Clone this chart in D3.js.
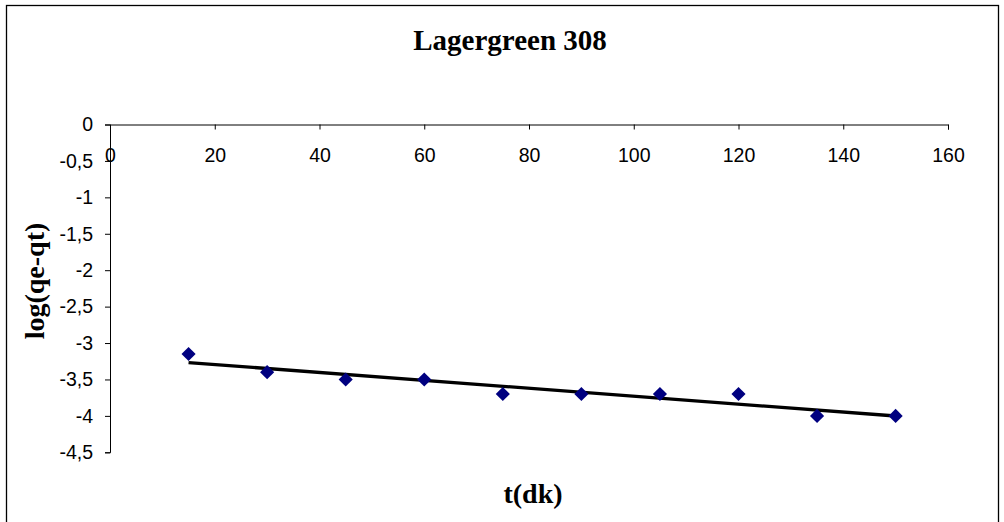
<!DOCTYPE html>
<html>
<head>
<meta charset="utf-8">
<script src="https://cdn.jsdelivr.net/npm/d3@7"></script>
<style>
html,body{margin:0;padding:0;background:#fff;}
svg{display:block;}
</style>
</head>
<body>
<svg id="chart" width="1004" height="522"></svg>
<script>
const tValues = [15, 30, 45, 60, 75, 90, 105, 120, 135, 150];
const logValues = [-3.15, -3.4, -3.5, -3.5, -3.7, -3.7, -3.7, -3.7, -4.0, -4.0];
const xTicks = [0, 20, 40, 60, 80, 100, 120, 140, 160];
const yTicks = [0, -0.5, -1, -1.5, -2, -2.5, -3, -3.5, -4, -4.5];
const titleText = "Lagergreen 308";
const xLabel = "t(dk)";
const yLabel = "log(qe-qt)";

const svg = d3.select("#chart");
const W = 1004, H = 522;

svg.append("rect").attr("x", 0).attr("y", 0).attr("width", W).attr("height", H).attr("fill", "#fff");
svg.append("rect").attr("x", 6.5).attr("y", 5.5).attr("width", 992).attr("height", 540)
  .attr("fill", "none").attr("stroke", "#000").attr("stroke-width", 1.3);

const x = d3.scaleLinear().domain([0, 160]).range([110, 948]);
const y = d3.scaleLinear().domain([-4.5, 0]).range([452.3, 124.5]);

const loc = d3.formatLocale({decimal: ",", thousands: ".", grouping: [3], currency: ["", ""], minus: "-"});
const fmt = loc.format("~g");

// x axis at y=0 (top)
const gx = svg.append("g").attr("transform", `translate(0,${y(0)})`)
  .call(d3.axisBottom(x).tickValues(xTicks).tickSize(5).tickPadding(19).tickFormat(d3.format("d")));
gx.select(".domain").attr("stroke", "#000").attr("stroke-width", 1);
gx.selectAll(".tick line").attr("stroke", "#000");
gx.selectAll("text").attr("font-family", "Liberation Sans, Arial, sans-serif").attr("font-size", 19.5).attr("fill", "#000");

const gy = svg.append("g").attr("transform", `translate(${x(0)},0)`)
  .call(d3.axisLeft(y).tickValues(yTicks).tickSize(5).tickPadding(12).tickFormat(fmt));
gy.select(".domain").attr("stroke", "#000").attr("stroke-width", 1);
gy.selectAll(".tick line").attr("stroke", "#000");
gy.selectAll("text").attr("font-family", "Liberation Sans, Arial, sans-serif").attr("font-size", 19.5).attr("fill", "#000");

// trendline (least squares)
const n = tValues.length;
const mx = d3.mean(tValues), my = d3.mean(logValues);
let sxy = 0, sxx = 0;
for (let i = 0; i < n; i++) { sxy += (tValues[i]-mx)*(logValues[i]-my); sxx += (tValues[i]-mx)**2; }
const slope = sxy / sxx, icpt = my - slope*mx;
const x0 = d3.min(tValues), x1 = d3.max(tValues);
svg.append("line")
  .attr("x1", x(x0)).attr("y1", y(icpt + slope*x0))
  .attr("x2", x(x1)).attr("y2", y(icpt + slope*x1))
  .attr("stroke", "#000").attr("stroke-width", 3.3);

// markers
svg.append("g").selectAll("path").data(tValues.map((t, i) => [t, logValues[i]])).join("path")
  .attr("d", d3.symbol().type(d3.symbolSquare).size(100))
  .attr("transform", d => `translate(${x(d[0])},${y(d[1])}) rotate(45)`)
  .attr("fill", "#000080");

svg.append("text").attr("x", 510).attr("y", 50).attr("text-anchor", "middle")
  .attr("font-family", "Liberation Serif, Times New Roman, serif").attr("font-weight", "bold")
  .attr("font-size", 29).text(titleText);

svg.append("text").attr("x", 533).attr("y", 503).attr("text-anchor", "middle")
  .attr("font-family", "Liberation Serif, Times New Roman, serif").attr("font-weight", "bold")
  .attr("font-size", 28).text(xLabel);

svg.append("text").attr("transform", "translate(44,281) rotate(-90)").attr("text-anchor", "middle")
  .attr("font-family", "Liberation Serif, Times New Roman, serif").attr("font-weight", "bold")
  .attr("font-size", 28).text(yLabel);
</script>
</body>
</html>
